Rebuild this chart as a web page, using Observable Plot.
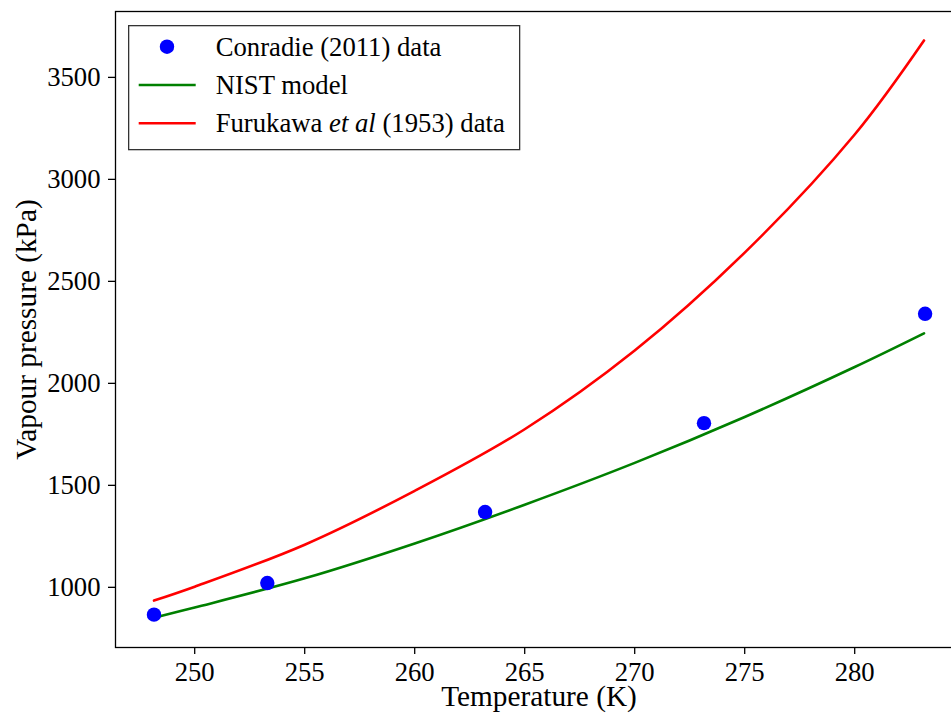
<!DOCTYPE html>
<html><head><meta charset="utf-8">
<script src="https://cdn.jsdelivr.net/npm/d3@7"></script>
<script src="https://cdn.jsdelivr.net/npm/@observablehq/plot@0.6"></script>
<style>
html,body{margin:0;padding:0;background:#fff;}
#wrap{position:relative;width:951px;height:722px;overflow:hidden;background:#fff;}
#wrap > svg:first-child{max-width:none !important;}
#wrap svg text{font-family:"Liberation Serif","Times New Roman",serif !important;font-variant:normal !important;font-variant-numeric:normal !important;}
#legend{position:absolute;left:128px;top:25px;}
</style></head><body><div id="wrap"></div>
<script>
// Conradie (2011) measured points
const conradieT = [248.15, 253.3, 263.2, 273.15, 283.2];
const conradieP = [866, 1021, 1369, 1805, 2341];
// Model curves
const modelT = [248.15, 250, 255, 260, 265, 270, 275, 280, 283.15];
const nistP = [851, 901, 1044, 1215, 1405, 1610, 1835, 2080, 2245];
const furukawaP = [935, 1003, 1209, 1473, 1775, 2161, 2641, 3220, 3681];
const xTicks = [250, 255, 260, 265, 270, 275, 280];
const yTicks = [1000, 1500, 2000, 2500, 3000, 3500];
const seriesNames = ["Conradie (2011) data", "NIST model", "Furukawa et al (1953) data"];
const seriesColors = ["#0000ff", "#008000", "#ff0000"];
const xLabel = "Temperature (K)";
const yLabel = "Vapour pressure (kPa)";

const points = conradieT.map((t, i) => ({t, p: conradieP[i]}));
const nist = modelT.map((t, i) => ({t, p: nistP[i]}));
const furu = modelT.map((t, i) => ({t, p: furukawaP[i]}));

const font = '"Liberation Serif", "Times New Roman", serif';

const chart = Plot.plot({
  width: 972, height: 722,
  marginLeft: 115, marginRight: 10, marginTop: 11, marginBottom: 75,
  style: {fontFamily: font, fontSize: "26.7px", color: "#000", background: "#fff", maxWidth: "none", overflow: "visible"},
  x: {domain: [246.4, 284.9]},
  y: {domain: [705, 3823]},
  marks: [
    Plot.line(furu, {x: "t", y: "p", stroke: seriesColors[2], strokeWidth: 2.6, curve: "catmull-rom"}),
    Plot.line(nist, {x: "t", y: "p", stroke: seriesColors[1], strokeWidth: 2.6, curve: "catmull-rom"}),
    Plot.dot(points, {x: "t", y: "p", r: 7.2, fill: seriesColors[0], stroke: "none"}),
    Plot.frame({stroke: "#000", strokeWidth: 1.3}),
    Plot.axisX({ticks: xTicks, tickFormat: d => String(d), tickSize: 7, tickPadding: 8, label: null, strokeWidth: 1.3, fontSize: 26.7, fontFamily: font, fontVariant: "normal", fill: "#000"}),
    Plot.axisY({ticks: yTicks, tickFormat: d => String(d), tickSize: 7, tickPadding: 8, label: null, strokeWidth: 1.3, fontSize: 26.7, fontFamily: font, fontVariant: "normal", fill: "#000"}),
    Plot.text([{s: xLabel}], {text: "s", frameAnchor: "bottom", textAnchor: "middle", lineAnchor: "middle", dy: 49, fontSize: 29.3, fill: "#000"}),
    Plot.text([{s: yLabel}], {text: "s", frameAnchor: "left", textAnchor: "middle", lineAnchor: "middle", dx: -89, rotate: -90, fontSize: 29.3, fill: "#000"})
  ]
});
const wrap = document.getElementById("wrap");
wrap.appendChild(chart);
d3.select(chart).selectAll("text").attr("font-family", font).style("font-family", font).style("font-variant", "normal");

// Legend overlay (inside the axes, top-left)
const lg = d3.select(wrap).append("svg").attr("id", "legend")
  .attr("width", 394).attr("height", 127)
  .style("font-family", font).style("font-size", "26.7px");
lg.append("rect").attr("x", 0.65).attr("y", 0.65).attr("width", 391).attr("height", 124)
  .attr("fill", "#fff").attr("stroke", "#333").attr("stroke-width", 1.3);
const rowY = [21.7, 60, 98.3];
lg.append("circle").attr("cx", 39).attr("cy", rowY[0]).attr("r", 7.2).attr("fill", seriesColors[0]);
[1, 2].forEach(i => lg.append("line").attr("x1", 10.7).attr("x2", 67.7).attr("y1", rowY[i]).attr("y2", rowY[i])
  .attr("stroke", seriesColors[i]).attr("stroke-width", 2.6));
seriesNames.forEach((name, i) => {
  const t = lg.append("text").attr("x", 87.7).attr("y", rowY[i]).attr("dy", "0.34em").attr("fill", "#000");
  if (name.includes(" et al ")) {
    const [a, b] = name.split(" et al ");
    t.append("tspan").text(a + " ");
    t.append("tspan").attr("font-style", "italic").text("et al");
    t.append("tspan").text(" " + b);
  } else {
    t.text(name);
  }
});
</script>
</body></html>
